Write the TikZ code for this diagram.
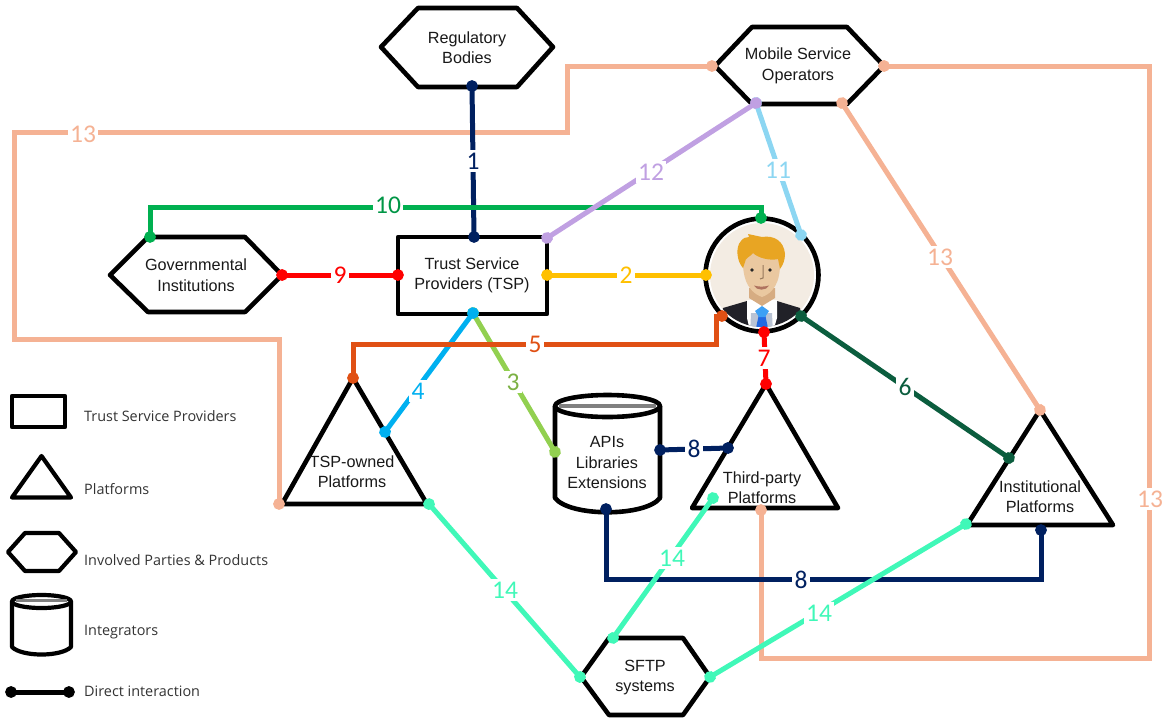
\documentclass[tikz,border=0pt]{standalone}
\usepackage{fontspec}
\setmainfont{Liberation Sans}
\newfontfamily\numfont{Carlito}
\newfontfamily\legfont{Open Sans}
\usetikzlibrary{arrows.meta}
\definecolor{cnavy}{RGB}{0,32,96}
\definecolor{cyellow}{RGB}{255,192,0}
\definecolor{clime}{RGB}{146,208,80}
\definecolor{csky}{RGB}{0,176,240}
\definecolor{crust}{RGB}{224,80,20}
\definecolor{cdgreen}{RGB}{11,93,62}
\definecolor{cred}{RGB}{255,0,0}
\definecolor{cgreen}{RGB}{0,176,80}
\definecolor{clight}{RGB}{140,214,242}
\definecolor{cpurple}{RGB}{192,160,226}
\definecolor{cpeach}{RGB}{245,178,148}
\definecolor{cturq}{RGB}{64,248,184}
\definecolor{cnumgreen}{RGB}{0,150,70}
\definecolor{pbg}{RGB}{243,236,227}
\definecolor{phair}{RGB}{232,165,35}
\definecolor{pskin}{RGB}{234,200,160}
\definecolor{pneck}{RGB}{214,172,130}
\definecolor{psuit}{RGB}{33,33,40}
\definecolor{pvest}{RGB}{185,195,212}
\definecolor{ptie}{RGB}{35,105,225}
\definecolor{pknot}{RGB}{60,160,245}
\definecolor{pmouth}{RGB}{175,115,95}
\tikzset{
 x=1pt,y=-1pt,
 shapeline/.style={draw=black,line width=4.6pt,line join=round,fill=white},
 legline/.style={draw=black,line width=4.2pt,line join=round,fill=white},
 conn/.style={draw=#1,line width=5pt,line join=miter,
   {Circle[length=11.5pt,#1]}-{Circle[length=11.5pt,#1]},shorten >=-5.7pt,shorten <=-5.7pt},
 lab/.style={font=\numfont\fontsize{25.5}{25.5}\selectfont,text=#1,fill=white,inner xsep=2.5pt,inner ysep=3pt,outer sep=0pt},
 txt/.style={font=\fontsize{16.2}{20.5}\selectfont,align=center,inner sep=0pt,text=black!90},
 leg/.style={font=\legfont\fontsize{14.4}{16}\selectfont,anchor=west,inner sep=0pt,text=black!80},
}
\begin{document}
\begin{tikzpicture}
\useasboundingbox (0,0) rectangle (1166,717);
% ---------- shapes
\draw[shapeline] (381,47)--(418,8)--(517,8)--(553,47)--(517,87)--(418,87)--cycle;
\draw[shapeline] (715,66)--(752,27)--(847,27)--(884,66)--(847,104)--(752,104)--cycle;
\draw[shapeline] (110,275)--(148,237)--(245,237)--(282,275)--(245,312)--(148,312)--cycle;
\draw[shapeline] (398,237) rectangle (547,314);
\draw[shapeline] (353,378)--(427,504)--(282,504)--cycle;
\draw[shapeline] (766,384)--(838,508)--(692,508)--cycle;
\draw[shapeline] (1040,410)--(1113,525)--(967,525)--cycle;
\draw[shapeline] (581,677)--(609,638)--(683,638)--(710,677)--(683,715)--(609,715)--cycle;
% cylinder
\draw[shapeline] (555,406) -- (555,498) .. controls (570,517) and (645,517) .. (660,498) -- (660,406);
\draw[shapeline] (607.5,406) ellipse [x radius=52.5pt,y radius=11pt];
\draw[draw=black!50,line width=4pt] (559,405.5) -- (656,405.5);
% person
\fill[white] (762,275) circle [radius=57pt];
\fill[pbg] (762,275) circle [radius=52pt];
\begin{scope}
\clip (762,275) circle [radius=52pt];
\fill[psuit] (718,335) -- (723,308) -- (747,301) -- (777,301) -- (800,308) -- (806,335) -- cycle;
\fill[white] (747,300) -- (777,300) -- (777,318) -- (772,335) -- (751,335) -- (747,318) -- cycle;
\fill[pvest] (751,313) -- (772,313) -- (773,335) -- (750,335) -- cycle;
\fill[ptie] (756,328) -- (759,314) -- (765,314) -- (768,328) -- cycle;
\fill[pknot] (762,306) -- (769,311) -- (765,317) -- (759,317) -- (755,311) -- cycle;
\end{scope}
\fill[pneck] (749,288) -- (775,288) -- (775,298) -- (762,306) -- (749,298) -- cycle;
\fill[pskin] (743,255) .. controls (743,243) and (780,243) .. (780,255)
  .. controls (781,275) and (778,291) .. (762,297) .. controls (746,291) and (742,275) .. (743,255) -- cycle;
\fill[phair] (743,268) .. controls (737,262) and (735,247) .. (741,241)
  .. controls (743,238) and (746,237) .. (749,237) -- (748,234) -- (762,237)
  .. controls (774,235) and (784,241) .. (785,254) .. controls (785,260) and (783,265) .. (780,269)
  -- (778,259) .. controls (770,261) and (758,258) .. (753,253) .. controls (750,257) and (745,258) .. (745,262) -- cycle;
\fill[black!85] (752,270) circle [radius=1.8pt] (770,270) circle [radius=1.8pt];
\draw[pneck!70!black,line width=1pt] (763,265) -- (763,278) -- (760,279);
\fill[pmouth] (754,285.5) .. controls (759,287) and (764,287) .. (769,285.5) .. controls (767,291) and (756,291) .. (754,285.5) -- cycle;
\draw[draw=black,line width=4.6pt] (762,275) circle [radius=56.5pt];
% ---------- named end points
\coordinate (regB) at (472,86);
\coordinate (tspT) at (474,237);
\coordinate (tspR) at (547,275);
\coordinate (tspL) at (398,275);
\coordinate (tspB) at (473,313);
\coordinate (tspTR) at (547,238);
\coordinate (usrL) at (706,275);
\coordinate (usrT) at (761,218);
\coordinate (usrB) at (764,332);
\coordinate (usrBL) at (722,316);
\coordinate (usrBR) at (801,316);
\coordinate (usrTR) at (801,235);
\coordinate (apiL) at (555,452);
\coordinate (apiR) at (660,450);
\coordinate (apiB) at (606,509);
\coordinate (ownT) at (353,378);
\coordinate (ownR) at (385,432);
\coordinate (ownBR) at (429,504);
\coordinate (ownBL) at (279,504);
\coordinate (thdT) at (766,384);
\coordinate (thdL) at (728,448);
\coordinate (thdIn) at (713,498);
\coordinate (thdB) at (761,510);
\coordinate (insT) at (1040,410);
\coordinate (insR) at (1009,458);
\coordinate (insB) at (1041,530);
\coordinate (insL) at (966,524);
\coordinate (govR) at (282,275);
\coordinate (govT) at (150,237);
\coordinate (mobL) at (712,66);
\coordinate (mobR) at (884,66);
\coordinate (mobBL) at (756,103);
\coordinate (mobBR) at (842,103);
\coordinate (sftL) at (580,677);
\coordinate (sftT) at (613,638);
\coordinate (sftR) at (710,677);
% ---------- connectors
\draw[conn=cpeach] (mobL) -- (567,66) -- (567,132) -- (14,132) -- (14,339) -- (279,339) -- (ownBL);
\draw[conn=cpeach] (mobBR) -- (insT);
\draw[conn=cpeach] (mobR) -- (1149,66) -- (1149,658) -- (761,658) -- (thdB);
\draw[conn=cnavy] (regB) -- (tspT);
\draw[conn=cyellow] (tspR) -- (usrL);
\draw[conn=clime] (tspB) -- (apiL);
\draw[conn=csky] (tspB) -- (ownR);
\draw[conn=crust] (ownT) -- (353,344) -- (716,344) -- (716,316) -- (usrBL);
\draw[conn=cdgreen] (usrBR) -- (insR);
\draw[conn=cred] (usrB) -- (thdT);
\draw[conn=cnavy] (apiR) -- (thdL);
\draw[conn=cnavy] (apiB) -- (606,579) -- (1041,579) -- (insB);
\draw[conn=cred] (govR) -- (tspL);
\draw[conn=cgreen] (govT) -- (150,207) -- (761,207) -- (usrT);
\draw[conn=clight] (mobBL) -- (usrTR);
\draw[conn=cpurple] (tspTR) -- (mobBL);
\draw[conn=cturq] (ownBR) -- (sftL);
\draw[conn=cturq] (sftT) -- (thdIn);
\draw[conn=cturq] (sftR) -- (insL);
% ---------- connector labels
\node[lab=cnavy] (n1) at (473,161) {1};
\node[lab=cyellow] (n2) at (626,275) {2};
\node[lab=clime!85!black] (n3) at (513,382) {3};
\node[lab=csky] (n4) at (418,391) {4};
\node[lab=crust] (n5) at (535,344) {5};
\node[lab=cdgreen] (n6) at (905,387) {6};
\node[lab=cred] (n7) at (764,358) {7};
\node[lab=cnavy] (n8a) at (694,449) {8};
\node[lab=cnavy] (n8b) at (801,580) {8};
\node[lab=cred] (n9) at (340,275) {9};
\node[lab=cnumgreen] (n10) at (388,205) {10};
\node[lab=clight] (n11) at (778,170) {11};
\node[lab=cpurple] (n12) at (651,172) {12};
\node[lab=cpeach] (n13a) at (83,134) {13};
\node[lab=cpeach] (n13b) at (940,257) {13};
\node[lab=cpeach] (n13c) at (1150,499) {13};
\node[lab=cturq] (n14a) at (505,590) {14};
\node[lab=cturq] (n14b) at (672,558) {14};
\node[lab=cturq] (n14c) at (819,613) {14};
% ---------- shape texts
\node[txt] (treg) at (467,47.5) {Regulatory\\Bodies};
\node[txt] (tmob) at (798,66) {Mobile Service\\Operators};
\node[txt] (tgov) at (196,275) {Governmental\\Institutions};
\node[txt] (ttsp) at (472,275.5) {Trust Service\\Providers (TSP)};
\node[txt] (town) at (352,471.5) {TSP-owned\\Platforms};
\node[txt] (tapi) at (607,462.5) {APIs\\Libraries\\Extensions};
\node[txt] (tthd) at (762,487.5) {Third-party\\Platforms};
\node[txt] (tins) at (1040,496.5) {Institutional\\Platforms};
\node[txt] (tsft) at (645,677.5) {SFTP\\systems};
% ---------- legend
\draw[legline] (12,396) rectangle (65,427);
\draw[legline] (41.5,456) -- (71,497.5) -- (12,497.5) -- cycle;
\draw[legline] (8,552) -- (25,533) -- (59,533) -- (76,552) -- (59,571) -- (25,571) -- cycle;
\draw[legline] (12,601) -- (12,647) .. controls (22,657) and (61,657) .. (71,647) -- (71,601);
\draw[legline] (41.5,601.5) ellipse [x radius=29.5pt,y radius=6.5pt];
\draw[draw=black!50,line width=2.6pt] (16,600.5) -- (67,600.5);
\coordinate (legA) at (11,692);
\coordinate (legB) at (69,692);
\draw[conn=black] (legA) -- (legB);
\node[leg] (l1) at (84,416) {Trust Service Providers};
\node[leg] (l2) at (84,489) {Platforms};
\node[leg] (l3) at (84,560) {Involved Parties \& Products};
\node[leg] (l4) at (84,632) {Integrators};
\node[leg] (l5) at (84,691) {Direct interaction};
\end{tikzpicture}
\end{document}
